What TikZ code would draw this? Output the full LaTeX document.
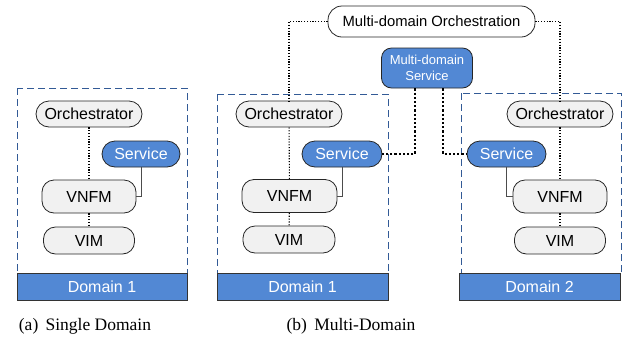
\documentclass[tikz,border=0pt]{standalone}
\usepackage{fontspec}
\setmainfont{Liberation Serif}
\setsansfont{Liberation Sans}
\usetikzlibrary{positioning}

\definecolor{svcblue}{RGB}{82,136,212}
\definecolor{boxgray}{RGB}{241,241,241}
\definecolor{dashblue}{RGB}{50,90,150}

\tikzset{
  grey box/.style={draw=black!85, line width=0.8pt, fill=boxgray, inner sep=0pt,
    font=\sffamily\fontsize{16}{18}\selectfont},
  blue box/.style={draw=black!85, line width=0.8pt, fill=svcblue, text=white, inner sep=0pt,
    font=\sffamily\fontsize{16}{18}\selectfont},
  domain bar/.style={draw=black!80, line width=0.8pt, fill=svcblue, text=white, inner sep=0pt,
    minimum height=27pt, font=\sffamily\fontsize{16}{18}\selectfont},
  domain area/.style={draw=dashblue, line width=0.9pt, dash pattern=on 7pt off 4pt},
  ctrl link/.style={line width=1.1pt, dash pattern=on 1.2pt off 1.6pt},
  svc link/.style={draw=black!70, line width=0.8pt},
  md link/.style={line width=1.8pt, dash pattern=on 2.2pt off 2pt}
}

\begin{document}
\begin{tikzpicture}[x=1pt, y=-1pt]
            \useasboundingbox (0,0) rectangle (624,341);

            % (a) single domain
            \draw[domain area] (17,88) rectangle (187,273);
            \node[domain bar, minimum width=170pt] (domA) at (102,286.5) {Domain 1};

            \node[grey box, rounded corners=13pt, minimum width=106pt, minimum height=26pt] (orchA) at (89,114) {Orchestrator};
            \node[blue box, rounded corners=13pt, minimum width=78pt, minimum height=26pt] (svcA) at (141,154) {Service};
            \node[grey box, rounded corners=12pt, minimum width=94pt, minimum height=33pt] (vnfmA) at (89,196.5) {VNFM};
            \node[grey box, rounded corners=12pt, minimum width=91pt, minimum height=27pt] (vimA) at (89,240.5) {VIM};

            \draw[ctrl link] (orchA) -- (vnfmA);
            \draw[ctrl link] (vnfmA) -- (vimA);
            \draw[svc link] (svcA.south) |- (vnfmA.east);

            % (b) multi-domain, domain 1
            \draw[domain area] (217,94) rectangle (388,273);
            \node[domain bar, minimum width=171pt] (domB) at (302.5,286.5) {Domain 1};

            \node[grey box, rounded corners=13pt, minimum width=106pt, minimum height=26pt] (orchB) at (289,114) {Orchestrator};
            \node[blue box, rounded corners=13pt, minimum width=80pt, minimum height=26pt] (svcB) at (342,154) {Service};
            \node[grey box, rounded corners=12pt, minimum width=95pt, minimum height=33pt] (vnfmB) at (289.5,196) {VNFM};
            \node[grey box, rounded corners=12pt, minimum width=92pt, minimum height=27pt] (vimB) at (289,239.5) {VIM};

            \draw[ctrl link] (orchB) -- (vnfmB);
            \draw[ctrl link] (vnfmB) -- (vimB);
            \draw[svc link] (svcB.south) |- (vnfmB.east);

            % (b) multi-domain, domain 2
            \draw[domain area] (461,93) rectangle (621,273);
            \node[domain bar, minimum width=161pt] (domC) at (539.5,286.5) {Domain 2};

            \node[grey box, rounded corners=13pt, minimum width=106pt, minimum height=26pt] (orchC) at (560,114) {Orchestrator};
            \node[blue box, rounded corners=13pt, minimum width=79pt, minimum height=26pt] (svcC) at (506.5,154) {Service};
            \node[grey box, rounded corners=12pt, minimum width=94pt, minimum height=33pt] (vnfmC) at (560,196.5) {VNFM};
            \node[grey box, rounded corners=12pt, minimum width=91pt, minimum height=27pt] (vimC) at (560,240.5) {VIM};

            \draw[ctrl link] (orchC) -- (vnfmC);
            \draw[ctrl link] (vnfmC) -- (vimC);
            \draw[svc link] (svcC.south) |- (vnfmC.west);

            % multi-domain layer
            \node[grey box, fill=white, rounded corners=14pt, minimum width=207pt, minimum height=31pt,
              font=\sffamily\fontsize{14.8}{17}\selectfont] (mdorch) at (431.5,21.5) {Multi-domain Orchestration};
            \node[blue box, rounded corners=10pt, minimum width=91pt, minimum height=40pt, align=center,
              font=\sffamily\fontsize{13}{15.5}\selectfont] (mdsvc) at (427,68) {Multi-domain\\Service};

            \draw[ctrl link] (mdorch.west) -| (orchB.north);
            \draw[ctrl link] (mdorch.east) -| (orchC.north);
            \draw[md link] ([xshift=-12pt]mdsvc.south) |- (svcB.east);
            \draw[md link] ([xshift=16pt]mdsvc.south) |- (svcC.west);

            % captions
            \node[font=\fontsize{17.5}{20}\selectfont] (capA) at (85,326) {(a)\ \,Single Domain};
            \node[font=\fontsize{17.5}{20}\selectfont] (capB) at (351,326) {(b)\ \,Multi-Domain};
        \end{tikzpicture}
\end{document}
